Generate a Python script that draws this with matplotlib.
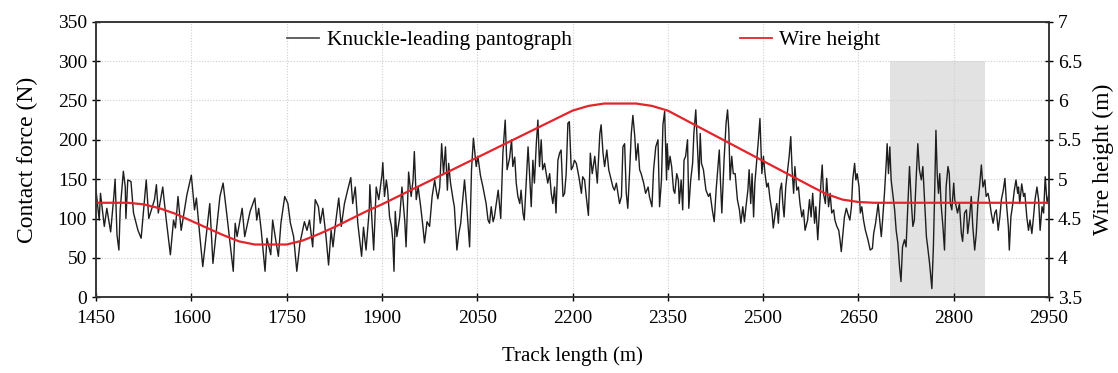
import matplotlib
matplotlib.use("Agg")
import matplotlib.pyplot as plt
from matplotlib.lines import Line2D
from matplotlib.ticker import FormatStrFormatter

plt.rcParams['font.family'] = ['Liberation Serif', 'DejaVu Serif']

# contact force (track position in m, force in N)
track = [1450, 1455, 1457, 1463, 1467, 1473, 1478, 1480, 1483, 1486, 1488, 1493, 1496, 1497, 1500,
         1505, 1509, 1516, 1521, 1529, 1533, 1542, 1545, 1548, 1555, 1560, 1567, 1572, 1575, 1579,
         1584, 1593, 1600, 1605, 1608, 1613, 1618, 1629, 1634, 1645, 1650, 1655, 1666,
         1669, 1672, 1680, 1684, 1692.5, 1700, 1703, 1706, 1710, 1716, 1719, 1725, 1728, 1732, 1737,
         1741, 1747, 1752, 1756, 1761, 1766, 1771, 1778, 1782, 1786, 1791, 1795, 1800, 1803, 1807,
         1812, 1816, 1820, 1823, 1827, 1832, 1836, 1841, 1846, 1851, 1854, 1858, 1862, 1868, 1871,
         1875, 1880, 1881, 1887,
         1891, 1895, 1900, 1901.4, 1904, 1907, 1909, 1912, 1915, 1917, 1919, 1921, 1923.5, 1928,
         1931.5, 1936, 1938, 1942, 1946, 1949, 1951, 1954, 1957, 1961, 1964.5, 1967, 1971, 1975,
         1979, 1983, 1985.4, 1988, 1991, 1994, 1997, 2000, 2003, 2005, 2008, 2012, 2014, 2018, 2021,
         2024, 2026.4, 2030, 2034, 2038, 2041, 2044, 2048.4, 2051, 2055, 2059, 2064, 2067, 2069.4,
         2072, 2075, 2077, 2083, 2087, 2090.4, 2094, 2097, 2101, 2104, 2106, 2109, 2111.4, 2114, 2117,
         2119, 2122, 2124, 2130, 2132, 2135, 2137.6, 2140, 2143, 2145.5, 2148, 2150.7, 2153, 2156,
         2158.6, 2161, 2164, 2166.5, 2169, 2171.7, 2174, 2177, 2179.6, 2182, 2185, 2187.5, 2190,
         2192.7, 2195, 2198, 2200.6, 2203, 2206, 2210, 2214, 2216, 2219, 2221.6, 2225, 2228, 2231,
         2235, 2239, 2243, 2245, 2248, 2250.5, 2254, 2257, 2261, 2263.6, 2266, 2269, 2271.5, 2274,
         2277, 2279.3, 2282, 2284.6, 2287, 2290, 2292.5, 2295, 2298, 2300, 2303, 2305.6, 2308, 2312,
         2315, 2319, 2321, 2325, 2327.6, 2331, 2334.5, 2337, 2340, 2342.3, 2345,
         2348, 2349, 2351, 2353.5, 2356, 2359, 2361, 2364, 2366.6, 2368, 2371, 2373.4, 2375.5, 2378,
         2381, 2383, 2386, 2389, 2391, 2394, 2396.5, 2399, 2401, 2403, 2406, 2410, 2414, 2416.5,
         2420, 2423, 2426, 2428.6, 2431, 2433, 2435, 2438.5, 2441.7, 2444, 2446, 2448, 2450.6, 2453,
         2456, 2459.5, 2462.7, 2465, 2468, 2470.6, 2473, 2476, 2478, 2480.5, 2482.6, 2485, 2487,
         2490, 2492.6, 2495, 2498, 2500.5, 2503, 2505.7, 2508, 2511, 2513.6, 2516, 2519, 2521.5,
         2524, 2526.7, 2529, 2531, 2533, 2535.6, 2538, 2541, 2543.5, 2545.6, 2548, 2550, 2553,
         2555.6, 2558, 2561, 2563.5, 2566,
         2570, 2573, 2575.5, 2578, 2581, 2583, 2586, 2589, 2591.3, 2593, 2595, 2598, 2600, 2603,
         2605.5, 2608, 2611, 2613, 2616, 2619, 2621, 2623, 2626, 2628, 2631, 2633, 2636.5, 2639,
         2641, 2644, 2646, 2648, 2651, 2653, 2655.3, 2658, 2661, 2665, 2668.5, 2672, 2674, 2677,
         2679, 2681, 2683, 2686, 2688.4, 2691, 2694, 2695.2, 2697.3, 2699.4, 2701.5, 2704, 2707,
         2709.4, 2712, 2714.7, 2717, 2719.4, 2722.5, 2725, 2728, 2730.4, 2733, 2735.7, 2738, 2741,
         2743.5, 2746, 2749, 2751.4, 2754, 2757, 2759, 2762, 2765.6, 2768, 2770, 2772, 2774, 2776,
         2778, 2780, 2783, 2785.5,
         2788, 2791, 2793, 2794.7, 2797, 2800, 2801.6, 2804, 2806, 2809, 2812, 2814, 2817, 2820,
         2822, 2825, 2827.6, 2830, 2833, 2835.5, 2838, 2841, 2843.5, 2846, 2849, 2851, 2854, 2857,
         2859, 2862, 2864.7, 2867, 2870, 2872.6, 2875, 2878, 2880.6, 2883, 2886, 2887.5, 2890, 2893,
         2895.4, 2898, 2900.7, 2902, 2904, 2907, 2910, 2912, 2915, 2917.7, 2920, 2923, 2925.6, 2928,
         2931, 2933.6, 2936, 2939, 2941.5, 2944, 2947, 2950]
force = [136, 98, 132, 90, 113, 83, 128, 150, 79, 60, 111, 160, 140, 100, 149,
         147, 107, 85, 75, 149, 100, 124, 143, 107, 140, 102, 54, 98, 88, 128,
         85, 130, 155, 111, 126, 81, 39, 119, 43, 128, 145, 111, 33,
         94, 77, 113, 77, 109, 126, 98, 113, 85, 33, 75, 54, 98, 77, 52,
         94, 128, 119, 94, 77, 33, 69, 96, 85, 98, 64, 124, 115, 94, 113,
         77, 41, 85, 64, 94, 126, 90, 119, 136, 152, 119, 140, 94, 52, 89,
         60, 111, 143, 60,
         140, 124, 155, 171, 128, 149, 136, 102, 90, 73, 33, 109, 77, 102,
         140, 96, 64, 159, 128, 149, 185, 124, 140, 115, 90, 69, 96, 90,
         128, 149, 136, 125, 140, 195, 157, 191, 136, 170, 145, 124, 115, 60, 81,
         94, 117, 149, 110, 64, 162, 202, 166, 179, 155, 140, 119, 98, 94,
         115, 96, 102, 136, 100, 183, 225, 162, 177, 200, 166, 178, 145, 128, 119,
         136, 107, 98, 191, 162, 115, 174, 145, 195, 225, 166, 200, 162, 170,
         157, 145, 157, 132, 119, 140, 107, 174, 183, 187, 128, 132, 157,
         221, 223, 162, 166, 174, 170, 153, 132, 153, 149, 128, 104, 183, 157,
         179, 145, 208, 219, 183, 166, 187, 162, 149, 140, 136, 145, 132, 119,
         128, 191, 195, 132, 113, 162, 208, 231, 204, 174, 195, 162, 157, 145,
         132, 140, 128, 115, 162, 191, 200, 115, 149, 219, 236,
         149, 195, 162, 179, 166, 136, 132, 157, 149, 119, 149, 111, 174, 179,
         200, 113, 149, 170, 208, 238, 195, 149, 208, 170, 162, 136, 128, 132,
         111, 96, 136, 162, 187, 145, 107, 174, 221, 238, 212, 149, 179, 157,
         157, 124, 111, 94, 115, 96, 115, 136, 162, 119, 157, 102, 145,
         174, 200, 227, 157, 179, 157, 140, 145, 124, 111, 88, 107, 119,
         94, 136, 145, 119, 102, 140, 157, 179, 204, 162, 132, 166, 136,
         140, 119, 102, 111, 85,
         98, 124, 102, 132, 94, 115, 73, 115, 149, 168, 132, 119, 151, 115,
         132, 107, 111, 98, 90, 85, 73, 58, 85, 102, 113, 107, 98, 115,
         149, 170, 149, 157, 140, 107, 115, 98, 85, 73, 60, 62, 81, 94,
         107, 119, 102, 77, 102, 132, 174, 195, 157, 191, 149, 132, 111,
         85, 69, 39, 20, 64, 73, 64, 119, 166, 124, 90, 98, 153,
         195, 162, 149, 166, 124, 77, 64, 43, 11, 64, 132, 212, 157, 132,
         157, 119, 90, 60,
         140, 166, 157, 119, 111, 145, 124, 115, 107, 119, 81, 71, 107, 111,
         81, 102, 128, 90, 60, 81, 119, 144, 168, 140, 149, 128, 132, 119,
         107, 94, 107, 111, 85, 102, 124, 136, 151, 119, 90, 60, 102, 119,
         136, 149, 132, 140, 119, 144, 128, 132, 102, 85, 98, 81, 102, 124,
         140, 124, 85, 115, 107, 153, 119, 132]

# catenary wire height (m)
wire_x = [1450, 1500, 1525, 1550, 1575, 1600, 1625, 1650, 1675, 1700, 1750, 1775, 1800, 1825,
          1850, 1875, 1900, 2200, 2225, 2250, 2300, 2325, 2350, 2580, 2600, 2625, 2650, 2675, 2950]
wire_h = [4.70, 4.70, 4.68, 4.63, 4.56, 4.47, 4.38, 4.29, 4.21, 4.17, 4.17, 4.22, 4.30, 4.39,
          4.49, 4.59, 4.68, 5.87, 5.93, 5.96, 5.96, 5.93, 5.87, 4.89, 4.81, 4.74, 4.71, 4.70, 4.70]

shade = (2700, 2850)
shade_top = 300

fig = plt.figure(figsize=(11.18, 3.73), dpi=100)
ax = fig.add_axes([0.0859, 0.203, 0.8524, 0.739])
ax2 = ax.twinx()

ax.set_axisbelow(True)
ax.axvspan(shade[0], shade[1], ymin=0, ymax=shade_top / 350, color='#e2e2e2', lw=0, zorder=0)
ax.plot(track, force, color='#1e1e1e', lw=1.0, zorder=2)
ax2.plot(wire_x, wire_h, color='#e3242b', lw=1.6)

ax.set_xlim(1450, 2950)
ax.set_ylim(0, 350)
ax2.set_ylim(3.5, 7)
ax.set_xticks(range(1450, 2951, 150))
ax.set_yticks(range(0, 351, 50))
ax2.set_yticks([3.5, 4, 4.5, 5, 5.5, 6, 6.5, 7])
ax2.yaxis.set_major_formatter(FormatStrFormatter('%g'))

ax.grid(True, color='#cfcfcf', ls=(0, (1, 1.5)), lw=0.8)

for a in (ax, ax2):
    a.tick_params(direction='inout', length=6, width=1, labelsize=14, colors='black')
    for s in a.spines.values():
        s.set_linewidth(1.1)
        s.set_color('#333333')
ax.tick_params(axis='x', pad=6)

ax.set_xlabel('Track length (m)', fontsize=15, labelpad=14)
ax.set_ylabel('Contact force (N)', fontsize=17, labelpad=14)
ax2.set_ylabel('Wire height (m)', fontsize=17, labelpad=8)

h1 = [Line2D([], [], color='#555555', lw=1.3)]
h2 = [Line2D([], [], color='#e3242b', lw=1.3)]
leg1 = ax2.legend(h1, ['Knuckle-leading pantograph'], loc='center left',
                  bbox_to_anchor=(0.18, 0.933), frameon=False, fontsize=15.5,
                  handlelength=1.5, handletextpad=0.35)
ax2.add_artist(leg1)
ax2.legend(h2, ['Wire height'], loc='center left', bbox_to_anchor=(0.655, 0.933),
           frameon=False, fontsize=15.5, handlelength=1.5, handletextpad=0.35)

fig.savefig('out.png', dpi=100)
